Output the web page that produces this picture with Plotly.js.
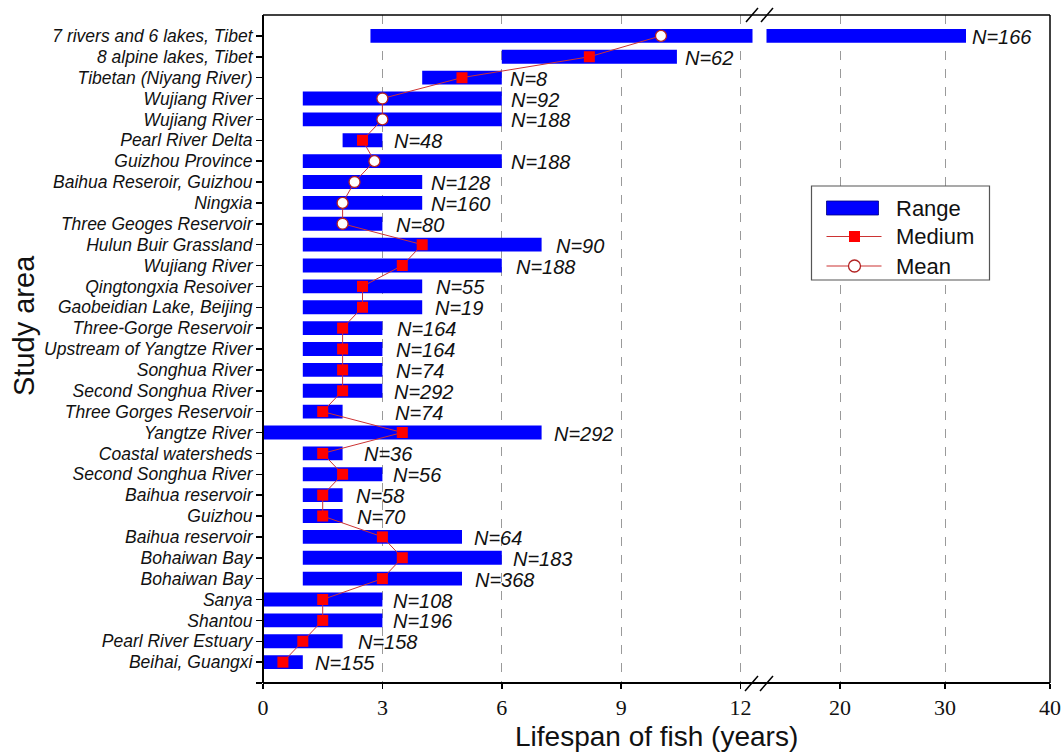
<!DOCTYPE html>
<html>
<head>
<meta charset="utf-8">
<script src="https://cdn.plot.ly/plotly-3.0.1.min.js"></script>
<style>html,body{margin:0;padding:0;background:#fff;}#chart{width:1063px;height:755px;}</style>
</head>
<body>
<div id="chart"></div>
<script>
// ---------------- data ----------------
const studyAreas = ["7 rivers and 6 lakes, Tibet","8 alpine lakes, Tibet","Tibetan (Niyang River)","Wujiang River","Wujiang River","Pearl River Delta","Guizhou Province","Baihua Reseroir, Guizhou","Ningxia","Three Geoges Reservoir","Hulun Buir Grassland","Wujiang River","Qingtongxia Resoiver","Gaobeidian Lake, Beijing","Three-Gorge Reservoir","Upstream of Yangtze River","Songhua River","Second Songhua River","Three Gorges Reservoir","Yangtze River","Coastal watersheds","Second Songhua River","Baihua reservoir","Guizhou","Baihua reservoir","Bohaiwan Bay","Bohaiwan Bay","Sanya","Shantou","Pearl River Estuary","Beihai, Guangxi"];
const rangeMin = [2.7,6,4,1,1,2,1,1,1,1,1,1,1,1,1,1,1,1,1,0,1,1,1,1,1,1,1,0,0,0,0];
const rangeMax = [32,10.4,6,6,6,3,6,4,4,3,7,6,4,4,3,3,3,3,2,7,2,3,2,2,5,6,5,3,3,2,1];
const medianLife = [null,8.2,5,null,null,2.5,null,null,null,null,4,3.5,2.5,2.5,2,2,2,2,1.5,3.5,1.5,2,1.5,1.5,3,3.5,3,1.5,1.5,1,0.5];
const meanLife = [10,null,null,3,3,null,2.8,2.3,2,2,null,null,null,null,null,null,null,null,null,null,null,null,null,null,null,null,null,null,null,null,null];
const sampleN = [166,62,8,92,188,48,188,128,160,80,90,188,55,19,164,164,74,292,74,292,36,56,58,70,64,183,368,108,196,158,155];
const xTicksLeft = [0,3,6,9,12];
const xTicksRight = [20,30,40];

// ---------------- layout helpers ----------------
const L = 263, R = 1050, T = 15, B = 683;
const W = R - L, H = B - T;
const px = v => (v - L) / W;          // pixel x -> paper x
const py = v => (B - v) / H;          // pixel y -> paper y
const leftEndPx = 752.5, rightStartPx = 766.5;
const leftScale = 39.8, rightScale = 10.5;

const idx = studyAreas.map((_, i) => i);
const rangeWidth = rangeMax.map((m, i) => m - rangeMin[i]);
const centerLine = idx.map(i => medianLife[i] !== null ? medianLife[i] : meanLife[i]);

// per-label horizontal offset (pixels) from the end of each bar
const labelShift = [7,9,9,10,10,12.6,10,9.5,9.5,15,15,15,14.5,14,16,15,15,13,53,13.5,22,12,14,15.7,13,12.5,14,12,12,16,13];

const barBase = {
  type: 'bar', orientation: 'h', y: idx, x: rangeWidth, base: rangeMin,
  width: 0.67, marker: {color: '#0000FF', line: {width: 0}},
  hoverinfo: 'skip', showlegend: false
};
const traces = [
  Object.assign({}, barBase, {xaxis: 'x', yaxis: 'y'}),
  Object.assign({}, barBase, {xaxis: 'x2', yaxis: 'y'}),
  {type: 'scatter', mode: 'lines', x: centerLine, y: idx, xaxis: 'x', yaxis: 'y',
   line: {color: '#cc3333', width: 1}, hoverinfo: 'skip', showlegend: false},
  {type: 'scatter', mode: 'markers', x: medianLife, y: idx, xaxis: 'x', yaxis: 'y',
   marker: {symbol: 'square', size: 11, color: '#FF0000', line: {width: 0}}, hoverinfo: 'skip', showlegend: false},
  {type: 'scatter', mode: 'markers', x: meanLife, y: idx, xaxis: 'x', yaxis: 'y',
   marker: {symbol: 'circle', size: 11, color: '#FFFFFF', line: {color: '#b22222', width: 1.3}}, hoverinfo: 'skip', showlegend: false}
];

const annotations = [];
idx.forEach(i => {
  const onRight = rangeMax[i] > 12.3;
  annotations.push({
    x: rangeMax[i], y: i, xref: onRight ? 'x2' : 'x', yref: 'y',
    text: 'N=' + sampleN[i], showarrow: false, xanchor: 'left', yanchor: 'middle',
    xshift: labelShift[i] - 2, yshift: -1, borderpad: 0,
    font: {family: 'Liberation Sans, Arial, sans-serif', size: 20, style: 'italic', color: '#111'}
  });
});
// axis titles
annotations.push({x: 0.5, y: py(736), xref: 'paper', yref: 'paper', text: 'Lifespan of fish (years)',
  showarrow: false, xanchor: 'center', yanchor: 'middle', borderpad: 0,
  font: {family: 'Liberation Sans, Arial, sans-serif', size: 28, color: '#111'}});
annotations.push({x: px(24), y: py(325), xref: 'paper', yref: 'paper', text: 'Study area', textangle: -90,
  showarrow: false, xanchor: 'center', yanchor: 'middle',
  font: {family: 'Liberation Sans, Arial, sans-serif', size: 29, color: '#111'}});
// legend texts
const legTextX = px(894);
[['Range', 208], ['Medium', 236.5], ['Mean', 266]].forEach(([t, yy]) => {
  annotations.push({x: legTextX, y: py(yy), xref: 'paper', yref: 'paper', text: t, showarrow: false,
    xanchor: 'left', yanchor: 'middle', font: {family: 'Liberation Sans, Arial, sans-serif', size: 22, color: '#111'}});
});

const shapes = [
  // frame
  {type: 'line', xref: 'paper', yref: 'paper', x0: 0, x1: 0, y0: 0, y1: 1, line: {color: '#000', width: 2}},
  {type: 'line', xref: 'paper', yref: 'paper', x0: 0, x1: 1, y0: 0, y1: 0, line: {color: '#000', width: 2}},
  {type: 'line', xref: 'paper', yref: 'paper', x0: 0, x1: 1, y0: 1, y1: 1, line: {color: '#000', width: 1.5}},
  {type: 'line', xref: 'paper', yref: 'paper', x0: 1, x1: 1, y0: 0, y1: 1, line: {color: '#000', width: 1.5}},
  // axis break marks
  {type: 'line', xref: 'paper', yref: 'paper', x0: px(745), x1: px(758), y0: py(691), y1: py(676), line: {color: '#000', width: 1.5}},
  {type: 'line', xref: 'paper', yref: 'paper', x0: px(760), x1: px(773), y0: py(691), y1: py(676), line: {color: '#000', width: 1.5}},
  {type: 'line', xref: 'paper', yref: 'paper', x0: px(746), x1: px(758), y0: py(22), y1: py(8), line: {color: '#000', width: 1.5}},
  {type: 'line', xref: 'paper', yref: 'paper', x0: px(761), x1: px(773), y0: py(22), y1: py(8), line: {color: '#000', width: 1.5}},
  // legend box
  {type: 'rect', xref: 'paper', yref: 'paper', x0: px(811.5), x1: px(989.5), y0: py(280), y1: py(186),
   fillcolor: '#fff', line: {color: '#555', width: 1.2}, layer: 'above'},
  {type: 'rect', xref: 'paper', yref: 'paper', x0: px(826.5), x1: px(878.5), y0: py(215), y1: py(201),
   fillcolor: '#0000FF', line: {color: '#000080', width: 0.8}, layer: 'above'},
  {type: 'line', xref: 'paper', yref: 'paper', x0: px(826.5), x1: px(881.5), y0: py(236.5), y1: py(236.5),
   line: {color: '#cc3333', width: 1.2}, layer: 'above'},
  {type: 'rect', xref: 'paper', yref: 'paper', x0: px(849), x1: px(860), y0: py(242), y1: py(231),
   fillcolor: '#FF0000', line: {width: 0}, layer: 'above'},
  {type: 'line', xref: 'paper', yref: 'paper', x0: px(826.5), x1: px(881.5), y0: py(266), y1: py(266),
   line: {color: '#cc3333', width: 1.2}, layer: 'above'},
  {type: 'circle', xref: 'paper', yref: 'paper', x0: px(848.5), x1: px(860.5), y0: py(272), y1: py(260),
   fillcolor: '#fff', line: {color: '#b22222', width: 1.3}, layer: 'above'}
];

const xTickFont = {family: '"Liberation Serif", "Times New Roman", Times, serif', size: 22, color: '#111'};
const layout = {
  width: 1063, height: 755,
  margin: {l: L, r: 1063 - R, t: T, b: 755 - B, pad: 0},
  paper_bgcolor: '#fff', plot_bgcolor: '#fff',
  showlegend: false, hovermode: false,
  font: {family: 'Liberation Sans, Arial, sans-serif', color: '#111'},
  barmode: 'overlay',
  xaxis: {
    domain: [0, px(leftEndPx)], range: [0, (leftEndPx - L) / leftScale], anchor: 'y',
    tickmode: 'array', tickvals: xTicksLeft, ticktext: xTicksLeft.map(String),
    ticks: 'outside', ticklen: 5, tickwidth: 1.5, tickcolor: '#000',
    showline: false, zeroline: false,
    showgrid: true, gridcolor: '#9a9a9a', gridwidth: 1, griddash: 'dash',
    tickfont: xTickFont
  },
  xaxis2: {
    domain: [px(rightStartPx), 1], range: [40 - (R - rightStartPx) / rightScale, 40], anchor: 'y',
    tickmode: 'array', tickvals: xTicksRight, ticktext: xTicksRight.map(String),
    ticks: 'outside', ticklen: 5, tickwidth: 1.5, tickcolor: '#000',
    showline: false, zeroline: false,
    showgrid: true, gridcolor: '#9a9a9a', gridwidth: 1, griddash: 'dash',
    tickfont: xTickFont
  },
  yaxis: {
    range: [31, -1], tickmode: 'array',
    tickvals: idx.concat([31]), ticktext: studyAreas.concat(['']),
    ticks: 'outside', ticklen: 6, tickwidth: 1.5, tickcolor: '#000',
    showline: false, zeroline: false, showgrid: false,
    tickfont: {family: 'Liberation Sans, Arial, sans-serif', size: 17.5, style: 'italic', color: '#111'}
  },
  shapes: shapes,
  annotations: annotations
};

Plotly.newPlot('chart', traces, layout, {displayModeBar: false, staticPlot: true});
</script>
</body>
</html>
